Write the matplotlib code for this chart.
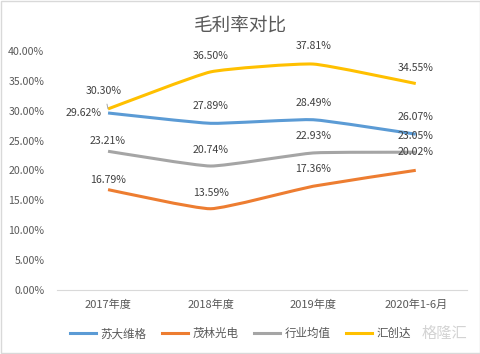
import matplotlib
matplotlib.use("Agg")
import matplotlib.pyplot as plt
from matplotlib.path import Path
from matplotlib.patches import PathPatch, Rectangle

plt.rcParams['font.family'] = ['Noto Sans CJK SC', 'DejaVu Sans']

# 数据
categories = ["2017年度", "2018年度", "2019年度", "2020年1-6月"]
suda = [29.62, 27.89, 28.49, 26.07]
maolin = [16.79, 13.59, 17.36, 20.02]
hangye = [23.21, 20.74, 22.93, 23.05]
huichuang = [30.30, 36.50, 37.81, 34.55]

series_names = ["苏大维格", "茂林光电", "行业均值", "汇创达"]
series_values = [suda, maolin, hangye, huichuang]
colors = ["#5B9BD5", "#ED7D31", "#A5A5A5", "#FFC000"]

# 标签偏移 (像素)
label_offsets = [
    [(-6, 0), (0, 17), (0, 17), (0, 17)],
    [(0, 10), (0, 16), (0, 17), (0, 18)],
    [(0, 10), (0, 16), (0, 17), (0, 16)],
    [(-4, 18), (0, 16), (0, 18), (0, 16)],
]


def smooth_path(xs, ys, k=14):
    # 轻微平滑的曲线 (Bezier)
    pts = list(zip(xs, ys))
    n = len(pts)
    verts = [pts[0]]
    codes = [Path.MOVETO]
    for i in range(n - 1):
        p0 = pts[i - 1] if i > 0 else pts[i]
        p1 = pts[i]
        p2 = pts[i + 1]
        p3 = pts[i + 2] if i + 2 < n else pts[i + 1]
        c1 = (p1[0] + (p2[0] - p0[0]) / k, p1[1] + (p2[1] - p0[1]) / k)
        c2 = (p2[0] - (p3[0] - p1[0]) / k, p2[1] - (p3[1] - p1[1]) / k)
        verts += [c1, c2, p2]
        codes += [Path.CURVE4] * 3
    return Path(verts, codes)


fig = plt.figure(figsize=(4.81, 3.54), dpi=100)
ax = fig.add_axes([0.118, 0.181, 0.853, 0.675])

x = list(range(len(categories)))
for name, vals, c, offs in zip(series_names, series_values, colors, label_offsets):
    patch = PathPatch(smooth_path(x, vals), fill=False, edgecolor=c, lw=2.2,
                      capstyle='butt')
    ax.add_patch(patch)
    ax.plot([], [], color=c, lw=2.2, label=name)
    for xi, v, (dx, dy) in zip(x, vals, offs):
        if name == "苏大维格" and xi == 0:
            ax.annotate(f"{v:.2f}%", (xi, v), xytext=(dx, dy),
                        textcoords='offset pixels', ha='right', va='center',
                        fontsize=7.6, color='#404040')
        elif name == "汇创达" and xi == 0:
            ax.annotate(f"{v:.2f}%", (xi, v), xytext=(dx, dy),
                        textcoords='offset pixels', ha='center', va='center',
                        fontsize=7.6, color='#404040',
                        arrowprops=dict(arrowstyle='-', color='#a6a6a6', lw=0.7,
                                        shrinkA=4, shrinkB=0))
        else:
            ax.annotate(f"{v:.2f}%", (xi, v), xytext=(dx, dy),
                        textcoords='offset pixels', ha='center', va='center',
                        fontsize=7.6, color='#404040')

ax.set_xlim(-0.5, len(categories) - 0.5)
ax.set_ylim(0, 40)
ax.set_yticks(range(0, 41, 5))
ax.set_yticklabels([f"{t:.2f}%" for t in range(0, 41, 5)])
ax.set_xticks(x)
ax.set_xticklabels(categories)
ax.tick_params(axis='y', length=0, pad=9, labelsize=7.6, labelcolor='#595959')
ax.tick_params(axis='x', length=0, pad=7, labelsize=8, labelcolor='#595959')
for s in ['top', 'right', 'left']:
    ax.spines[s].set_visible(False)
ax.spines['bottom'].set_color('#d9d9d9')

fig.text(0.5, 0.925, "毛利率对比", ha='center', va='center', fontsize=13.4,
         color='#595959')

fig.legend(loc='center', bbox_to_anchor=(0.5, 0.057), ncol=4, frameon=False,
           fontsize=8.3, handlelength=2.3, columnspacing=1.3, handletextpad=0.4,
           labelcolor='#595959')

# 水印
fig.text(0.925, 0.057, "格隆汇", ha='center', va='center', fontsize=11,
         color='#c8c8c8', alpha=0.8)

fig.patches.append(Rectangle((0.002, 0.003), 0.996, 0.994, transform=fig.transFigure,
                             fill=False, edgecolor='#d9d9d9', lw=1))

fig.savefig("out.png", dpi=100)
